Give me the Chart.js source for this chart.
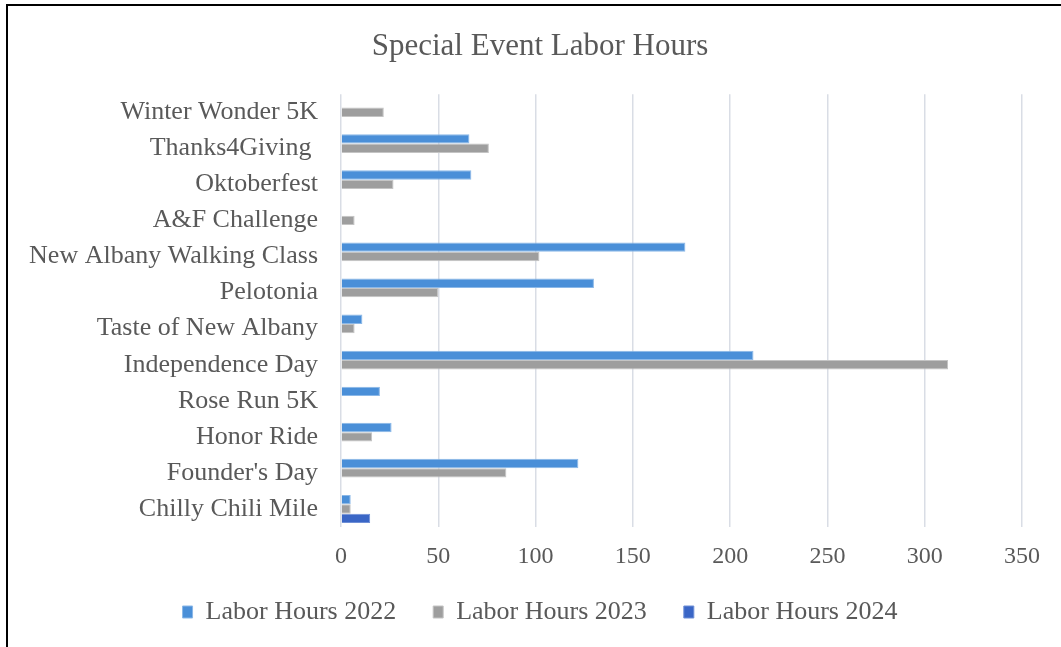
<!DOCTYPE html>
<html>
<head>
<meta charset="utf-8">
<title>Special Event Labor Hours</title>
<script src="https://cdn.jsdelivr.net/npm/chart.js@4.4.1/dist/chart.umd.min.js"></script>
<style>
  html, body { margin: 0; padding: 0; background: #fff; }
  #wrap { position: relative; width: 1061px; height: 647px; overflow: hidden; }
  #myChart { position: absolute; left: 0; top: 0; }
  #frame {
    position: absolute; left: 6px; top: 4px; right: -10px; bottom: -10px;
    border-left: 2px solid #000; border-top: 2px solid #000;
    pointer-events: none;
  }
</style>
</head>
<body>
<div id="wrap">
  <canvas id="myChart" width="1061" height="647"></canvas>
  <div id="frame"></div>
</div>
<script>
// events, listed top to bottom like the picture
const events = [
  'Winter Wonder 5K',
  'Thanks4Giving ',
  'Oktoberfest',
  'A&F Challenge',
  'New Albany Walking Class',
  'Pelotonia',
  'Taste of New Albany',
  'Independence Day',
  'Rose Run 5K',
  'Honor Ride',
  "Founder's Day",
  'Chilly Chili Mile'
];
const hours2022 = [null, 66, 67, null, 177, 130, 11, 212, 20, 26, 122, 5];
const hours2023 = [22, 76, 27, 7, 102, 50, 7, 312, null, 16, 85, 5];
const hours2024 = [null, null, null, null, null, null, null, null, null, null, null, 15];
const seriesNames = ['Labor Hours 2022', 'Labor Hours 2023', 'Labor Hours 2024'];
const xTicks = [0, 50, 100, 150, 200, 250, 300, 350];

const textColor = '#595959';
const serif = "'Liberation Serif', 'Times New Roman', serif";

const ctx = document.getElementById('myChart').getContext('2d');

const myChart = new Chart(ctx, {
  type: 'bar',
  data: {
    labels: events,
    datasets: [{
      label: seriesNames[0],
      data: hours2022,
      backgroundColor: '#4a8fd8',
      borderColor: '#8bb8e8',
      borderWidth: 1
    }, {
      label: seriesNames[1],
      data: hours2023,
      backgroundColor: '#9e9e9e',
      borderColor: '#c4c4c4',
      borderWidth: 1
    }, {
      label: seriesNames[2],
      data: hours2024,
      backgroundColor: '#3a66c6',
      borderColor: '#6f8fd6',
      borderWidth: 1
    }]
  },
  options: {
    indexAxis: 'y',
    responsive: false,
    animation: false,
    categoryPercentage: 0.78,
    barPercentage: 1.0,
    layout: {
      padding: { left: 19, right: 0, top: 10, bottom: 12 }
    },
    scales: {
      x: {
        min: 0,
        max: 350,
        afterBuildTicks: (scale) => {
          scale.ticks = xTicks.map(v => ({ value: v }));
        },
        afterFit: (scale) => {
          // keep room on the right so the plot ends at 350 like the picture
          scale.height = 35;
          scale.paddingRight = 39;
          // the axis box is short, so don't let it clip its own labels
          scale._computeLabelArea = () => undefined;
        },
        grid: {
          color: '#d9dde5',
          lineWidth: 1.5,
          drawTicks: false
        },
        border: { display: false },
        ticks: {
          color: textColor,
          padding: 15,
          font: { family: serif, size: 24 }
        }
      },
      y: {
        afterFit: (scale) => {
          scale.width = 322;
        },
        grid: { display: false, drawTicks: false },
        border: { display: false },
        ticks: {
          color: textColor,
          padding: 23,
          autoSkip: false,
          font: { family: serif, size: 26 }
        }
      }
    },
    plugins: {
      title: {
        display: true,
        text: 'Special Event Labor Hours',
        color: textColor,
        font: { family: serif, size: 31, weight: 'normal' },
        padding: { top: 18, bottom: 29 }
      },
      legend: {
        position: 'bottom',
        labels: {
          color: textColor,
          boxWidth: 10,
          boxHeight: 12,
          padding: 37,
          font: { family: serif, size: 26 }
        }
      },
      tooltip: { enabled: false }
    }
  }
});
</script>
</body>
</html>
